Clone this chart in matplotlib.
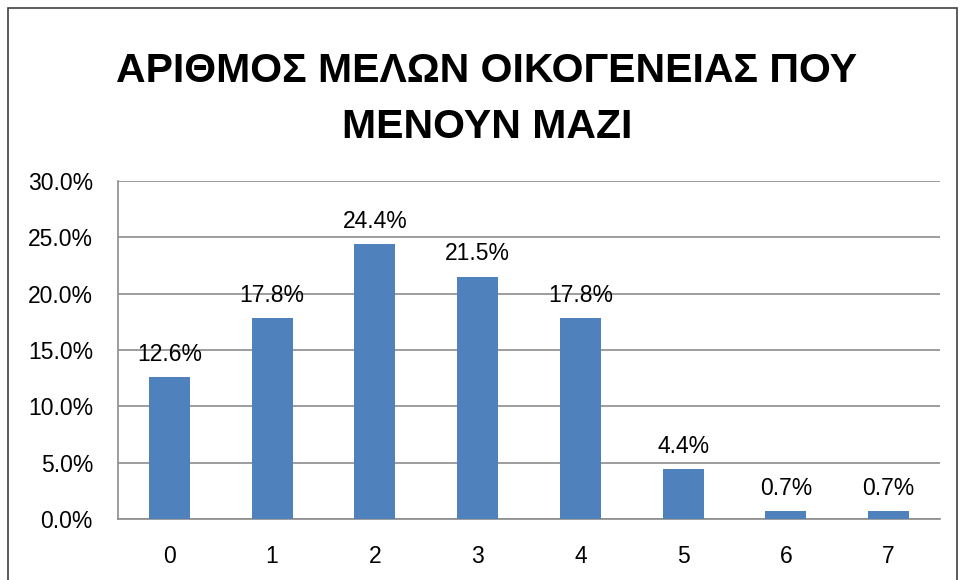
import matplotlib.pyplot as plt
from matplotlib.patches import Rectangle
from matplotlib.ticker import FuncFormatter, MultipleLocator

# datos del grafico
categorias = ['0', '1', '2', '3', '4', '5', '6', '7']
porcentajes = [12.6, 17.8, 24.4, 21.5, 17.8, 4.4, 0.7, 0.7]
titulo = 'ΑΡΙΘΜΟΣ ΜΕΛΩΝ ΟΙΚΟΓΕΝΕΙΑΣ ΠΟΥ\nΜΕΝΟΥΝ ΜΑΖΙ'

plt.rcParams['font.family'] = ['Liberation Sans', 'DejaVu Sans']

fig = plt.figure(figsize=(9.6, 5.8), dpi=100)
ax = fig.add_axes([0.1229, 0.1052, 0.8562, 0.5828])

x = range(len(categorias))
ax.bar(x, porcentajes, width=0.4, color='#4f81bd', zorder=3)

for xi, v in zip(x, porcentajes):
    ax.text(xi, v + 1.0, f'{v:.1f}%', ha='center', va='bottom', fontsize=16.5)

ax.set_xlim(-0.5, len(categorias) - 0.5)
ax.set_ylim(0, 30)
ax.yaxis.set_major_locator(MultipleLocator(5))
ax.yaxis.set_major_formatter(FuncFormatter(lambda v, p: f'{v:.1f}%'))
ax.set_xticks(list(x))
ax.set_xticklabels(categorias)
ax.tick_params(axis='both', length=0, labelsize=16.5)
ax.tick_params(axis='x', pad=19)
ax.tick_params(axis='y', pad=18)

ax.grid(axis='y', color='#8c8c8c', linewidth=1.2, zorder=0)
for lado in ['top', 'right']:
    ax.spines[lado].set_visible(False)
for lado in ['left', 'bottom']:
    ax.spines[lado].set_color('#8c8c8c')
    ax.spines[lado].set_linewidth(1.2)

fig.text(0.507, 0.83, titulo, ha='center', va='center', fontsize=29.5,
         fontweight='bold', linespacing=1.6)

# marco exterior
fig.patches.append(Rectangle((8 / 960, -0.01), 949 / 960, 1 - 8 / 580 + 0.01,
                             transform=fig.transFigure, fill=False,
                             edgecolor='#404040', linewidth=1.2))

fig.savefig('out.png', dpi=100)
